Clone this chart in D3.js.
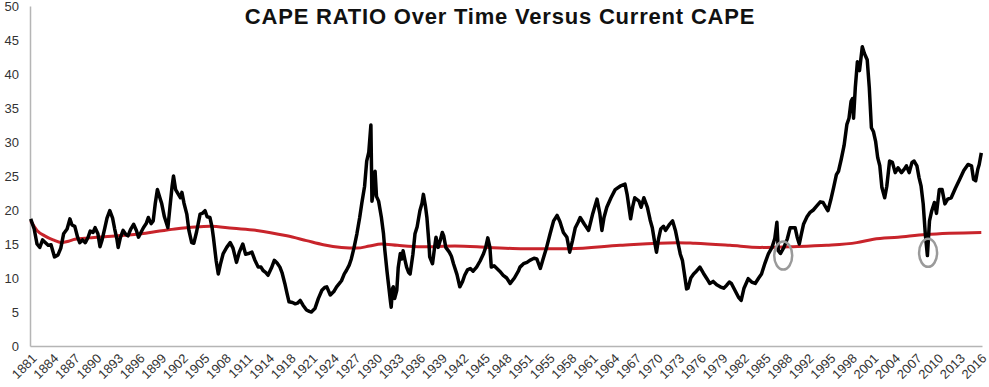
<!DOCTYPE html>
<html>
<head>
<meta charset="utf-8">
<script src="https://cdn.jsdelivr.net/npm/d3@7"></script>
<style>
  body { margin: 0; background: #fff; }
  svg { display: block; font-family: "Liberation Sans", Arial, sans-serif; }
</style>
</head>
<body>
<div id="chart"></div>
<script>
//set svg dimensions
var svgWidth = 989;
var svgHeight = 387;

//chart data (year, value)
var capeYears = [1881.1,1881.6,1882.0,1882.4,1882.8,1883.1,1883.6,1884.0,1884.5,1885.0,1885.4,1885.8,1886.3,1886.7,1887.0,1887.4,1887.8,1888.1,1888.5,1888.9,1889.3,1889.6,1890.0,1890.3,1890.7,1891.0,1891.3,1891.7,1892.0,1892.4,1892.8,1893.1,1893.4,1893.6,1893.9,1894.3,1894.7,1895.0,1895.4,1895.8,1896.2,1896.5,1896.9,1897.2,1897.6,1897.9,1898.3,1898.6,1898.9,1899.2,1899.5,1899.8,1900.2,1900.7,1901.0,1901.3,1901.5,1901.8,1902.2,1902.5,1902.7,1903.0,1903.4,1903.7,1904.1,1904.4,1904.8,1905.3,1905.6,1906.0,1906.3,1906.7,1907.0,1907.2,1907.6,1907.9,1908.2,1908.6,1909.1,1909.6,1910.0,1910.5,1910.9,1911.4,1911.8,1912.2,1912.7,1913.1,1913.6,1914.0,1914.3,1914.7,1915.0,1915.5,1915.9,1916.3,1916.7,1917.0,1917.4,1917.7,1918.0,1918.5,1918.9,1919.2,1919.6,1920.0,1920.5,1920.9,1921.2,1921.7,1922.2,1922.7,1923.1,1923.4,1923.9,1924.4,1924.8,1925.2,1925.5,1925.9,1926.2,1926.6,1926.9,1927.3,1927.7,1928.1,1928.4,1928.8,1929.1,1929.4,1929.7,1929.85,1930.1,1930.3,1930.5,1930.8,1931.2,1931.5,1931.7,1932.0,1932.2,1932.5,1932.6,1932.8,1932.9,1933.1,1933.4,1933.6,1933.9,1934.1,1934.3,1934.6,1934.8,1935.1,1935.3,1935.7,1936.0,1936.3,1936.7,1937.0,1937.2,1937.5,1937.7,1938.0,1938.1,1938.5,1938.8,1939.0,1939.3,1939.6,1939.9,1940.1,1940.4,1940.9,1941.2,1941.5,1942.0,1942.4,1942.8,1943.1,1943.5,1943.9,1944.3,1944.8,1945.3,1945.8,1946.1,1946.4,1946.7,1946.9,1947.3,1947.7,1948.1,1948.6,1949.1,1949.6,1950.2,1950.8,1951.0,1951.5,1952.0,1952.4,1953.0,1953.4,1953.9,1954.3,1954.8,1955.3,1955.8,1956.3,1956.7,1957.2,1957.7,1958.1,1958.5,1958.9,1959.3,1959.6,1960.2,1960.8,1961.4,1962.0,1962.4,1962.7,1963.0,1963.4,1964.0,1964.6,1965.3,1966.0,1966.3,1966.8,1967.1,1967.4,1968.0,1968.3,1968.7,1969.2,1969.6,1969.9,1970.2,1970.5,1970.8,1971.1,1971.5,1971.8,1972.3,1972.8,1973.2,1973.5,1973.9,1974.2,1974.5,1974.8,1975.0,1975.4,1975.8,1976.2,1976.7,1977.2,1977.7,1978.1,1978.6,1979.1,1979.6,1980.1,1980.5,1980.9,1981.2,1981.7,1982.2,1982.6,1983.0,1983.6,1984.1,1984.6,1985.1,1985.5,1986.0,1986.5,1987.0,1987.4,1987.7,1987.9,1988.2,1988.7,1989.2,1989.6,1990.3,1990.6,1990.9,1991.2,1991.5,1992.0,1992.4,1992.9,1993.4,1993.9,1994.3,1994.8,1995.0,1995.4,1995.8,1996.2,1996.5,1996.9,1997.3,1997.7,1998.0,1998.3,1998.5,1998.65,1998.9,1999.2,1999.5,1999.9,2000.2,2000.6,2000.9,2001.2,2001.5,2001.8,2002.1,2002.4,2002.7,2003.1,2003.4,2003.8,2004.2,2004.6,2005.0,2005.5,2005.9,2006.2,2006.6,2007.0,2007.3,2007.7,2008.0,2008.3,2008.6,2008.9,2009.2,2009.5,2009.8,2010.2,2010.5,2010.9,2011.3,2011.7,2012.1,2012.6,2013.2,2013.8,2014.4,2015.0,2015.5,2015.8,2016.1,2016.4,2016.6,2016.9];
var capeValues = [18.7,17.2,15.0,14.5,15.6,15.3,14.8,14.9,13.1,13.4,14.4,16.5,17.2,18.7,17.8,17.6,16.0,15.2,15.6,15.2,16.0,16.9,16.7,17.4,16.5,14.6,15.6,17.4,18.8,19.9,18.8,17.2,15.8,14.5,15.9,17.0,16.4,16.2,17.2,17.9,17.0,16.0,16.8,17.4,18.0,18.9,18.0,18.4,21.0,23.0,22.0,21.0,19.0,17.4,20.5,23.5,25.0,23.0,22.3,21.8,22.6,21.0,19.4,17.0,15.2,15.1,16.8,19.4,19.5,19.9,19.0,18.9,17.5,16.0,12.5,10.6,12.0,13.6,14.5,15.2,14.4,12.3,13.8,15.0,13.5,13.6,13.8,12.7,11.6,11.6,11.1,10.8,10.4,11.5,12.6,12.2,11.6,10.8,9.2,7.8,6.5,6.4,6.2,6.3,6.7,6.0,5.3,5.1,5.0,5.5,7.0,8.2,8.6,8.7,7.5,8.0,8.7,9.2,9.6,10.6,11.1,11.9,12.8,14.5,16.5,18.9,21.0,23.5,27.2,28.5,32.5,21.3,23.0,25.7,22.0,21.3,18.9,16.5,14.0,11.0,9.2,6.5,5.7,8.5,8.7,7.0,8.2,11.5,13.6,12.8,14.0,12.5,11.6,10.8,10.6,13.5,16.5,17.5,19.9,21.0,22.3,20.5,18.9,15.0,13.1,12.1,14.5,16.0,14.5,15.5,16.7,16.2,14.5,13.8,13.2,12.1,10.5,8.7,9.5,10.4,11.2,11.4,11.0,11.6,12.5,13.6,14.5,15.9,14.5,11.6,11.8,11.4,11.0,10.4,10.0,9.2,10.0,11.1,11.6,12.1,12.3,12.6,12.9,12.8,11.4,12.8,14.5,16.5,18.4,19.2,18.3,16.7,16.0,13.8,15.5,17.4,18.2,18.9,17.9,17.0,19.5,21.6,19.5,17.0,18.9,20.4,21.8,23.0,23.5,23.8,22.3,18.7,20.5,21.8,21.3,20.4,21.8,20.4,18.5,17.4,15.5,13.8,15.8,17.2,17.6,17.0,17.8,18.4,17.0,15.5,13.5,12.6,10.5,8.4,8.5,10.0,10.6,11.0,11.6,10.7,9.9,9.2,9.5,9.0,8.7,8.5,8.9,9.4,9.2,8.2,7.2,6.7,8.5,9.9,9.4,9.2,10.0,10.6,12.2,13.6,14.5,15.8,18.2,14.0,13.6,14.5,15.8,17.4,17.4,16.0,15.0,16.5,17.9,19.0,19.6,20.0,20.6,21.2,21.1,20.2,19.9,21.5,23.3,25.2,25.7,27.5,29.5,32.6,33.5,36.0,36.4,33.5,38.0,41.8,40.5,44.0,43.0,42.1,38.0,32.1,31.5,30.1,27.7,26.5,23.3,21.8,23.5,27.2,27.0,25.5,26.2,25.5,26.0,26.5,25.5,27.0,27.2,26.5,24.8,23.5,20.9,16.5,13.3,18.4,19.8,21.1,19.5,23.0,23.0,20.9,21.6,21.8,23.2,24.5,25.8,26.7,26.5,24.5,24.3,26.0,26.7,28.4];

//long run average (red)
var avgYears = [1881.1,1882.0,1883.1,1884.3,1885.5,1886.5,1887.4,1889.5,1892.1,1896.9,1899.5,1901.7,1904.6,1906.7,1910.0,1913.4,1917.7,1920.5,1922.9,1925.5,1927.7,1929.5,1931.2,1933.5,1936.9,1941.7,1946.5,1951.5,1958.1,1965.3,1973.4,1976.0,1981.0,1985.3,1989.5,1994.8,1999.1,2001.5,2005.0,2009.0,2016.9];
var avgValues = [18.4,17.0,16.2,15.6,15.2,15.4,15.7,15.9,16.1,16.5,16.9,17.2,17.5,17.6,17.3,17.0,16.2,15.5,14.9,14.5,14.4,14.7,15.0,14.8,14.6,14.7,14.5,14.3,14.3,14.8,15.2,15.1,14.8,14.5,14.6,14.8,15.2,15.7,16.0,16.4,16.7];

//circled points
var markYears = [1988.6, 2009.3];
var markValues = [13.3, 13.7];

//axis labels
var yTicks = [0,5,10,15,20,25,30,35,40,45,50];
var xTickLabels = ["1881","1884","1887","1890","1893","1896","1899","1902","1905","1908","1911","1914","1918","1921","1924","1927","1930","1933","1936","1939","1942","1945","1948","1951","1955","1958","1961","1964","1967","1970","1973","1976","1979","1982","1985","1988","1992","1995","1998","2001","2004","2007","2010","2013","2016"];

var svg = d3.select("#chart").append("svg")
    .attr("width", svgWidth)
    .attr("height", svgHeight);

//scales
var xScale = d3.scaleLinear().domain([1881, 2017]).range([30, 982]);
var yScale = d3.scaleLinear().domain([0, 50]).range([346, 6]);

//title
svg.append("text")
    .attr("x", 500)
    .attr("y", 24)
    .attr("text-anchor", "middle")
    .attr("font-size", "22px")
    .attr("font-weight", "bold")
    .attr("letter-spacing", "0.8px")
    .attr("fill", "#111")
    .text("CAPE RATIO Over Time Versus Current CAPE");

//y axis
var leftAxis = d3.axisLeft(yScale).tickValues(yTicks).tickSize(0).tickPadding(11);
var yAxis = svg.append("g")
    .attr("transform", "translate(30,0)")
    .call(leftAxis);
yAxis.select(".domain").attr("stroke", "#b5b5b5").attr("stroke-width", 1.5);
yAxis.selectAll("text").attr("font-size", "13px").attr("fill", "#333")
    .attr("font-family", "Liberation Sans, Arial, sans-serif");

//x axis: excel category labels every 37 months
var xTickYears = xTickLabels.map((d, i) => 1881 + i * 37 / 12);
var bottomAxis = d3.axisBottom(xScale).tickValues(xTickYears).tickSize(0)
    .tickFormat((d, i) => xTickLabels[i]);
var xAxis = svg.append("g")
    .attr("transform", "translate(0,346)")
    .call(bottomAxis);
xAxis.select(".domain").attr("stroke", "#b5b5b5").attr("stroke-width", 1.5);
xAxis.selectAll("text")
    .attr("font-size", "13px")
    .attr("fill", "#333")
    .attr("font-family", "Liberation Sans, Arial, sans-serif")
    .attr("text-anchor", "end")
    .attr("x", 0).attr("y", 0).attr("dy", "0.35em")
    .attr("transform", "translate(4,10) rotate(-45)");

//lines
var line = d3.line()
    .x(d => xScale(d[0]))
    .y(d => yScale(d[1]));

var capeData = capeYears.map((d, i) => [d, capeValues[i]]);
var avgData = avgYears.map((d, i) => [d, avgValues[i]]);

svg.append("path")
    .datum(avgData)
    .attr("fill", "none")
    .attr("stroke", "#c8242b")
    .attr("stroke-width", 3)
    .attr("d", line.curve(d3.curveMonotoneX));

svg.append("path")
    .datum(capeData)
    .attr("fill", "none")
    .attr("stroke", "#000")
    .attr("stroke-width", 3.5)
    .attr("stroke-linejoin", "round")
    .attr("d", line.curve(d3.curveLinear));

//grey circles
svg.selectAll(".mark")
    .data(markYears)
    .enter()
    .append("ellipse")
    .attr("cx", d => xScale(d))
    .attr("cy", (d, i) => yScale(markValues[i]))
    .attr("rx", 9)
    .attr("ry", 14)
    .attr("fill", "none")
    .attr("stroke", "#9a9a9a")
    .attr("stroke-width", 2.5);
</script>
</body>
</html>
